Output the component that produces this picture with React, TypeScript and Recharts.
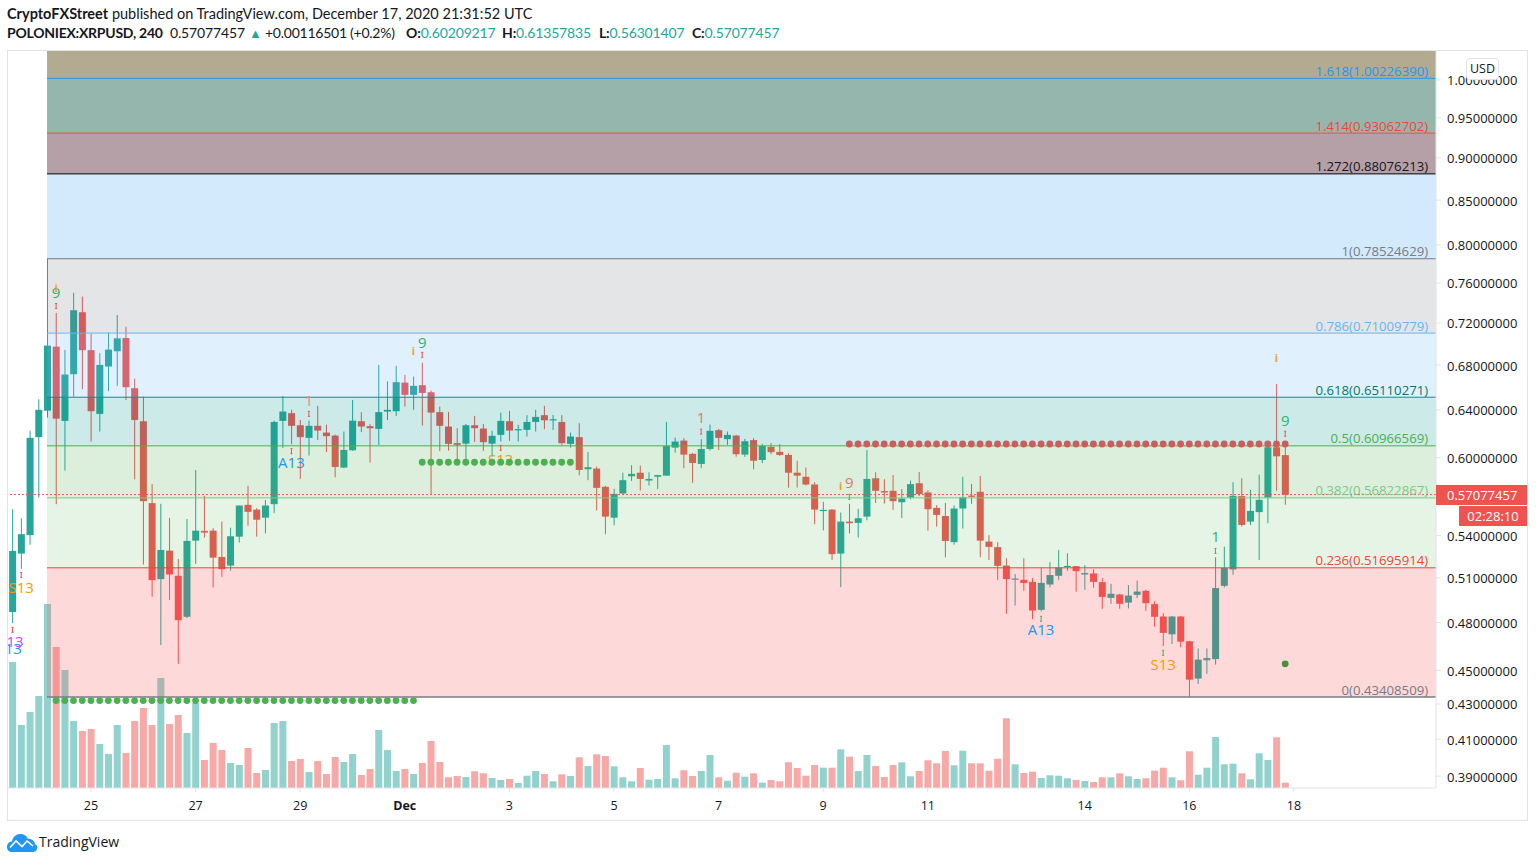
import React from "react";
import { ComposedChart, Bar, Scatter, XAxis, YAxis, ReferenceArea, ReferenceLine } from "recharts";

const highs = [.5596,.5528,.6224,.6493,.7852,.7297,.6941,.7500,.7460,.7093,
.6911,.7109,.7277,.7163,.6677,.6516,.5789,.5637,.5530,.5232,
.5523,.5901,.5698,.5454,.5503,.5458,.5624,.5776,.5604,.5667,
.6308,.6523,.6401,.6314,.6308,.6435,.6274,.6190,.6216,.6487,
.6381,.6278,.6802,.6653,.6793,.6711,.6695,.6823,.6570,.6429,
.6383,.6244,.6280,.6349,.6280,.6222,.6377,.6392,.6272,.6355,
.6401,.6435,.6357,.6355,.6207,.6286,.6045,.5928,.5776,.5752,
.5879,.5939,.5936,.5882,.5862,.6297,.6165,.6160,.6039,.6152,
.6274,.6238,.6216,.6188,.6155,.6160,.6113,.6119,.6111,.6036,
.5975,.5920,.5804,.5652,.5596,.5571,.5637,.5599,.6063,.5882,
.5828,.5861,.5750,.5817,.5885,.5742,.5627,.5644,.5624,.5847,
.5791,.5854,.5403,.5352,.5237,.5126,.5237,.5098,.5171,.5209,
.5296,.5272,.5183,.5188,.5160,.5098,.5059,.4991,.5050,.5081,
.5018,.4941,.4862,.4844,.4844,.4683,.4635,.4635,.5244,.5320,
.5804,.5835,.5745,.5865,.6099,.6629,.61358];
const lows = [.4797,.5162,.5334,.5685,.6334,.5634,.5896,.6516,.6582,.6132,
.6216,.6564,.6612,.6487,.5827,.5192,.4972,.4656,.4950,.4540,
.4829,.5197,.5385,.5034,.5107,.5149,.5349,.5473,.5392,.5417,
.5566,.6078,.6110,.5830,.6017,.6146,.6045,.5843,.5915,.6055,
.6211,.5960,.6105,.6314,.6349,.6429,.6401,.6266,.5713,.6053,
.6058,.5967,.5981,.6129,.6055,.6008,.6132,.6138,.6132,.6174,
.6216,.6236,.6230,.6105,.6082,.5859,.5820,.5586,.5410,.5476,
.5706,.5814,.5739,.5778,.5750,.5854,.6041,.5915,.5799,.5915,
.6058,.6063,.6105,.6008,.6006,.5907,.5955,.6028,.6014,.5762,
.5762,.5778,.5483,.5438,.5225,.5036,.5415,.5385,.5513,.5644,
.5639,.5591,.5530,.5672,.5696,.5436,.5466,.5244,.5334,.5451,
.5637,.5244,.5225,.5086,.4858,.4912,.5011,.4823,.4873,.5034,
.5086,.5149,.5005,.5018,.5032,.4891,.4924,.4891,.4893,.4962,
.4877,.4775,.4651,.4664,.4643,.4341,.4418,.4479,.4535,.5034,
.5121,.5466,.5478,.5225,.5491,.5737,.56301];
const opens = [.4869,.5270,.5403,.6169,.6394,.6972,.6306,.6717,.7304,.6939,
.6366,.6787,.6929,.7054,.6591,.6303,.5642,.5091,.5291,.5114,
.4838,.5363,.5434,.5436,.5246,.5185,.5392,.5629,.5593,.5532,
.5634,.6306,.6372,.6269,.6163,.6264,.6207,.6182,.5920,.6060,
.6303,.6261,.6238,.6386,.6389,.6641,.6532,.6618,.6555,.6381,
.6258,.6119,.6115,.6269,.6241,.6115,.6188,.6303,.6227,.6230,
.6297,.6355,.6311,.6297,.6113,.6169,.5907,.5912,.5768,.5532,
.5716,.5851,.5879,.5817,.5847,.5856,.6082,.6140,.6031,.5949,
.6071,.6227,.6152,.6182,.6025,.6144,.5981,.6088,.6047,.6022,
.5879,.5847,.5786,.5583,.5593,.5270,.5503,.5493,.5540,.5835,
.5735,.5737,.5649,.5685,.5796,.5724,.5606,.5545,.5352,.5601,
.5700,.5729,.5356,.5316,.5185,.5088,.5086,.5072,.4884,.5054,
.5114,.5176,.5181,.5123,.5130,.5070,.4964,.4986,.4932,.4984,
.5011,.4922,.4840,.4725,.4840,.4681,.4450,.4562,.4569,.5045,
.5158,.5696,.5503,.5574,.5685,.6085,.60209];
const closes = [.5289,.5410,.6163,.6401,.6982,.6325,.6714,.7324,.6939,.6389,
.6802,.6944,.7051,.6600,.6314,.5657,.5084,.5296,.5123,.4816,
.5361,.5436,.5422,.5241,.5160,.5395,.5624,.5576,.5517,.5624,
.6297,.6386,.6264,.6169,.6264,.6224,.6177,.5925,.6063,.6308,
.6258,.6244,.6381,.6401,.6645,.6532,.6612,.6549,.6377,.6264,
.6113,.6105,.6269,.6244,.6127,.6180,.6306,.6224,.6236,.6297,
.6340,.6311,.6320,.6119,.6174,.5901,.5923,.5760,.5540,.5713,
.5820,.5870,.5830,.5830,.5860,.6096,.6132,.6025,.5957,.6071,
.6222,.6163,.6188,.6028,.6135,.5975,.6096,.6045,.6022,.5879,
.5856,.5786,.5593,.5591,.5266,.5503,.5491,.5528,.5830,.5737,
.5724,.5657,.5677,.5789,.5711,.5596,.5553,.5361,.5601,.5688,
.5693,.5363,.5318,.5183,.5091,.5095,.5064,.4879,.5065,.5119,
.5171,.5183,.5146,.5133,.5072,.4970,.4991,.4924,.4979,.5006,
.4928,.4838,.4734,.4840,.4678,.4444,.4566,.4575,.5030,.5169,
.5698,.5478,.5583,.5667,.6085,.6011,.57077];
const volumes = [126,63,76,92,184,141,118,67,57,59,
44,34,63,35,67,80,63,110,64,73,
55,85,28,45,38,25,23,40,15,18,
65,67,27,29,16,27,14,31,26,34,
13,19,58,38,17,19,14,25,47,26,
10.7,12,11,16.7,14.7,10,8,9,5,12.3,
17,14,6.7,13.7,12,30.7,22,33.7,32,21.7,
10.7,6.7,20,8.3,9,43,9.7,17.7,12,17,
33,10.7,7.3,15.3,11.3,14.7,5.3,8,6.7,25.7,
20,12.3,23,20.3,20.3,38.7,31.3,17,33,22,
11,23,25.7,11.7,17,27.7,24.7,37,22.7,37.3,
24.7,24.7,17.3,29.3,69.7,23.7,15,16.3,10,12.7,
12.3,9.7,8,7,6,10.7,10.7,14.7,11.7,9,
9.7,17.3,20.3,10.7,7.7,36.7,13.3,20.3,51,23.7,
24.3,14.7,8.7,34.7,28,50.7,5.3];

const fibRatios = ["1.618","1.414","1.272","1","0.786","0.618","0.5","0.382","0.236","0"];
const fibPrices = [1.0022639,0.93062702,0.88076213,0.78524629,0.71009779,0.65110271,0.60966569,0.56822867,0.51695914,0.43408509];
const fibLineColors = ["#2196f3","#f44336","#000000","#787b86","#64b5f6","#009688","#4caf50","#81c784","#f44336","#787b86"];
const fibTextColors = ["#2196f3","#f44336","#131722","#787b86","#64b5f6","#00796b","#4caf50","#81c784","#f44336","#787b86"];
const fibBandFills = ["rgb(148,182,172)","rgb(182,160,168)","rgba(33,150,243,.2)","rgba(120,123,134,.2)","rgba(100,181,246,.2)","rgba(0,150,136,.2)","rgba(76,175,80,.2)","rgba(76,175,80,.14)","rgba(250,82,82,.22)"];
const topBandFill = "rgb(178,171,146)";

const priceTicks = [1,.95,.9,.85,.8,.76,.72,.68,.64,.6,.54,.51,.48,.45,.43,.41,.39];
const dateTickIdx = [9,21,33,45,57,69,81,93,105,123,135,147];
const dateTickLabels = ["25","27","29","Dec","3","5","7","9","11","14","16","18"];

const markText = ["9","S13","13","13","A13","1","9","S13","1","9","A13","S13","1","9"];
const markIdx = [5,1,0.3,0.1,32,34,47,56,79,96,118,132,138,146];
const markPrice = [.7487,.5025,.4670,.4625,.5949,.6470,.6998,.5973,.6322,.5791,.4747,.4527,.5383,.6297];
const markColor = ["#2db36f","#ff9800","#e040fb","#2196f3","#2196f3","#e08a8a","#2db36f","#ff9800","#e57373","#e57373","#2196f3","#ff9800","#2db36f","#2db36f"];

const infoIdx = [5,46,95,145];
const infoPrice = [.7538,.6922,.5767,.6857];

const tickIdx = [5,1,0,32,34,47,56,79,96,118,132,138,146];
const tickPrice = [.7366,.5120,.4753,.6053,.6366,.6895,.6080,.6215,.5690,.4825,.4608,.5289,.6197];
const tickColor = ["#ef5350","#ef5350","#ef5350","#ef5350","#ef5350","#ef5350","#ef5350","#ef5350","#4caf50","#4caf50","#4caf50","#4caf50","#ef5350"];

const lowDotPrice = .4320, midDotPrice = .5963, highDotPrice = .6112, soloDotPrice = .4540;
const PRICE_MIN = 0.3838, PRICE_MAX = 1.04;
const X_MIN = -0.516, X_MAX = 163.3, FIB_START = 3.96, LABEL_X = 162.4;
const LAST_PRICE = 0.57077457;
const UP = "#26a69a", DOWN = "#ef5350";

function range(a: number, b: number) { const r: number[] = []; for (let i = a; i <= b; i++) r.push(i); return r; }

const candles = highs.map((h, i) => {
  const up = closes[i] >= opens[i];
  return {
    idx: i, wick: [lows[i], h], body: [Math.min(opens[i], closes[i]), Math.max(opens[i], closes[i])],
    volume: volumes[i], color: up ? UP : DOWN, volColor: up ? "rgba(38,166,154,.5)" : "rgba(239,83,80,.5)",
  };
});
const labelPoints = fibRatios.map((r, i) => ({ idx: LABEL_X, price: fibPrices[i], text: `${r}(${fibPrices[i].toFixed(8)})`, color: fibTextColors[i] }));
const markPoints = markText.map((t, i) => ({ idx: markIdx[i], price: markPrice[i], text: t, color: markColor[i] }));
const infoPoints = infoIdx.map((x, i) => ({ idx: x, price: infoPrice[i] }));
const tickPoints = tickIdx.map((x, i) => ({ idx: x, price: tickPrice[i], color: tickColor[i] }));
const lowDots = range(5, 46).map((x) => ({ idx: x, price: lowDotPrice }));
const midDots = range(47, 64).map((x) => ({ idx: x, price: midDotPrice }));
const highDots = range(96, 146).map((x) => ({ idx: x, price: highDotPrice }));
const soloDot = [{ idx: 146, price: soloDotPrice }];

const AXIS_FONT = "'Open Sans', sans-serif";

const WickShape = (p: any) => <rect x={p.x + p.width / 2 - 0.5} y={p.y} width={1} height={Math.max(p.height, 1)} fill={p.payload.color} />;
const BodyShape = (p: any) => <rect x={p.x} y={p.y} width={p.width} height={Math.max(p.height, 1.2)} fill={p.payload.color} />;
const VolShape = (p: any) => <rect x={p.x} y={p.y} width={p.width} height={p.height} fill={p.payload.volColor} />;
const FibLabel = (p: any) => (
  <text x={p.cx} y={p.cy - 6} textAnchor="end" dominantBaseline="middle" fontFamily={AXIS_FONT} fontSize={13.2} fill={p.payload.color}>{p.payload.text}</text>
);
const MarkLabel = (p: any) => (
  <text x={p.cx} y={p.cy} textAnchor="middle" dominantBaseline="middle" fontFamily={AXIS_FONT} fontSize={15} fill={p.payload.color}>{p.payload.text}</text>
);
const InfoLabel = (p: any) => (
  <text x={p.cx} y={p.cy} textAnchor="middle" dominantBaseline="middle" fontFamily={AXIS_FONT} fontSize={11} fontWeight={700} fill="#f0a030">i</text>
);
const TinyMark = (p: any) => (
  <g stroke={p.payload.color} strokeWidth={1}>
    <line x1={p.cx} x2={p.cx} y1={p.cy - 2.5} y2={p.cy + 2.5} />
    <line x1={p.cx - 1} x2={p.cx + 1} y1={p.cy - 2.5} y2={p.cy - 2.5} />
    <line x1={p.cx - 1} x2={p.cx + 1} y1={p.cy + 2.5} y2={p.cy + 2.5} />
  </g>
);
const dot = (fill: string) => (p: any) => <circle cx={p.cx} cy={p.cy} r={3.4} fill={fill} />;
const DateTick = (p: any) => {
  const label = dateTickLabels[dateTickIdx.indexOf(p.payload.value)];
  return (
    <text x={p.x} y={p.y + 16} textAnchor="middle" fontFamily={AXIS_FONT} fontSize={12.5} fontWeight={label === "Dec" ? 700 : 400} fill="#131722">{label}</text>
  );
};
const PriceTick = (p: any) => (
  <text x={p.x} y={p.y + 2} textAnchor="start" dominantBaseline="middle" fontFamily={AXIS_FONT} fontSize={13} fill="#131722">{p.payload.value.toFixed(8)}</text>
);

const abs = (left: number, top: number, extra: React.CSSProperties = {}): React.CSSProperties => ({ position: "absolute", left, top, whiteSpace: "nowrap", ...extra });
const HEAD_FONT = "Lato, sans-serif";
const TEAL = "#26a69a";

function Header() {
  const base: React.CSSProperties = { fontFamily: HEAD_FONT, fontSize: 14.5, lineHeight: "18px", color: "#131722" };
  const row2: React.CSSProperties = { ...base, fontSize: 14, letterSpacing: -0.15 };
  return (
    <>
      <div style={abs(7, 5, base)}><b>CryptoFXStreet</b> published on TradingView.com, December 17, 2020 21:31:52 UTC</div>
      <div style={abs(7, 24, { ...row2, letterSpacing: -0.25 })}><b>POLONIEX:XRPUSD, 240</b></div>
      <div style={abs(170, 24, row2)}>0.57077457</div>
      <div style={abs(249, 24, { ...base, color: TEAL, fontSize: 13 })}>▲</div>
      <div style={abs(265, 24, { ...row2, letterSpacing: -0.25 })}>+0.00116501 (+0.2%)</div>
      <div style={abs(406, 24, row2)}><b>O:</b><span style={{ color: TEAL }}>0.60209217</span></div>
      <div style={abs(502, 24, row2)}><b>H:</b><span style={{ color: TEAL }}>0.61357835</span></div>
      <div style={abs(599, 24, row2)}><b>L:</b><span style={{ color: TEAL }}>0.56301407</span></div>
      <div style={abs(692, 24, row2)}><b>C:</b><span style={{ color: TEAL }}>0.57077457</span></div>
    </>
  );
}

export default function App() {
  const common = { xAxisId: "main", yAxisId: "price" } as const;
  return (
    <div style={{ position: "absolute", left: 0, top: 0, width: 1536, height: 863, background: "#fff", overflow: "hidden" }}>
      <Header />
      <div style={{ position: "absolute", left: 0, top: 0 }}>
        <ComposedChart width={1536} height={863} data={candles} margin={{ top: 51, left: 8, right: 8, bottom: 42 }}>
          <XAxis xAxisId="main" dataKey="idx" type="number" domain={[X_MIN, X_MAX]} allowDataOverflow ticks={dateTickIdx} interval={0} height={33} tick={<DateTick />} tickSize={4} stroke="#e0e3eb" />
          <XAxis xAxisId="vol" dataKey="idx" type="number" domain={[X_MIN, X_MAX]} allowDataOverflow hide height={0} />
          <XAxis xAxisId="wick" dataKey="idx" type="number" domain={[X_MIN, X_MAX]} allowDataOverflow hide height={0} />
          <XAxis xAxisId="body" dataKey="idx" type="number" domain={[X_MIN, X_MAX]} allowDataOverflow hide height={0} />
          <YAxis yAxisId="price" dataKey="price" orientation="right" scale="log" type="number" domain={[PRICE_MIN, PRICE_MAX]} allowDataOverflow ticks={priceTicks} interval={0} width={92} tickSize={5} tickMargin={6} stroke="#e0e3eb" tick={<PriceTick />} />
          <YAxis yAxisId="vol" type="number" domain={[0, 737]} hide width={0} />

          <Bar xAxisId="vol" yAxisId="vol" dataKey="volume" barSize={7} shape={VolShape} isAnimationActive={false} />
          <Bar xAxisId="wick" yAxisId="price" dataKey="wick" barSize={1} shape={WickShape} isAnimationActive={false} />
          <Bar xAxisId="body" yAxisId="price" dataKey="body" barSize={7} shape={BodyShape} isAnimationActive={false} />

          <ReferenceArea {...common} x1={FIB_START} x2={X_MAX} y1={fibPrices[0]} y2={PRICE_MAX} fill={topBandFill} fillOpacity={1} stroke="none" {...({ zIndex: 350 } as any)} />
          {fibBandFills.map((f, i) => (
            <ReferenceArea key={i} {...common} x1={FIB_START} x2={X_MAX} y1={fibPrices[i + 1]} y2={fibPrices[i]} fill={f} fillOpacity={1} stroke="none" {...({ zIndex: 350 } as any)} />
          ))}
          {fibPrices.map((p, i) => (
            <ReferenceLine key={i} {...common} segment={[{ x: FIB_START, y: p }, { x: X_MAX, y: p }]} stroke={fibLineColors[i]} strokeWidth={i === 9 ? 1.5 : 1} {...({ zIndex: 360 } as any)} />
          ))}
          <ReferenceLine {...common} y={LAST_PRICE} stroke={DOWN} strokeDasharray="2 2" {...({ zIndex: 360 } as any)} />

          <Scatter {...common} data={labelPoints} dataKey="price" shape={FibLabel} isAnimationActive={false} />
          <Scatter {...common} data={markPoints} dataKey="price" shape={MarkLabel} isAnimationActive={false} />
          <Scatter {...common} data={infoPoints} dataKey="price" shape={InfoLabel} isAnimationActive={false} />
          <Scatter {...common} data={tickPoints} dataKey="price" shape={TinyMark} isAnimationActive={false} />
          <Scatter {...common} data={lowDots} dataKey="price" shape={dot("#4caf50")} isAnimationActive={false} />
          <Scatter {...common} data={midDots} dataKey="price" shape={dot("#4caf50")} isAnimationActive={false} />
          <Scatter {...common} data={highDots} dataKey="price" shape={dot("#cd5c5c")} isAnimationActive={false} />
          <Scatter {...common} data={soloDot} dataKey="price" shape={dot("#4a8f3c")} isAnimationActive={false} />
        </ComposedChart>
      </div>
      <div style={{ position: "absolute", left: 7, top: 50, width: 1521, height: 771, boxSizing: "border-box", border: "1px solid #e0e3eb", pointerEvents: "none" }} />
      <div style={abs(1436, 485, { width: 91, height: 20, background: DOWN, color: "#fff", fontFamily: AXIS_FONT, fontSize: 13, lineHeight: "20px", paddingLeft: 11, boxSizing: "border-box" })}>0.57077457</div>
      <div style={abs(1459, 506, { width: 68, height: 20, background: DOWN, color: "#fff", fontFamily: AXIS_FONT, fontSize: 13, lineHeight: "20px", textAlign: "center" })}>02:28:10</div>
      <div style={abs(1466, 58, { width: 33, height: 22, background: "#fff", border: "1px solid #e0e3eb", borderRadius: 4, color: "#131722", fontFamily: AXIS_FONT, fontSize: 12.5, lineHeight: "20px", textAlign: "center", boxSizing: "border-box" })}>USD</div>
      <svg style={{ position: "absolute", left: 7, top: 833 }} width={31} height={19} viewBox="0 0 31 19">
        <path d="M0 14 C0 10 3 8.5 5 8.5 C6 3 10 1 13 1 C17 1 20 3 21 6 C23 5 28 8 28 11 C30 12 31 14 30 16 C29.5 18 28 19 26 19 L5 19 C2 19 0 17 0 14 Z" fill="#2196f3" />
        <path d="M3 14.5 L9 8 L15 13.5 L20 8 L26 13" fill="none" stroke="#fff" strokeWidth={1.6} />
      </svg>
      <div style={abs(39, 833, { fontFamily: "'Open Sans', sans-serif", fontSize: 14, lineHeight: "18px", color: "#131722" })}>TradingView</div>
    </div>
  );
}
